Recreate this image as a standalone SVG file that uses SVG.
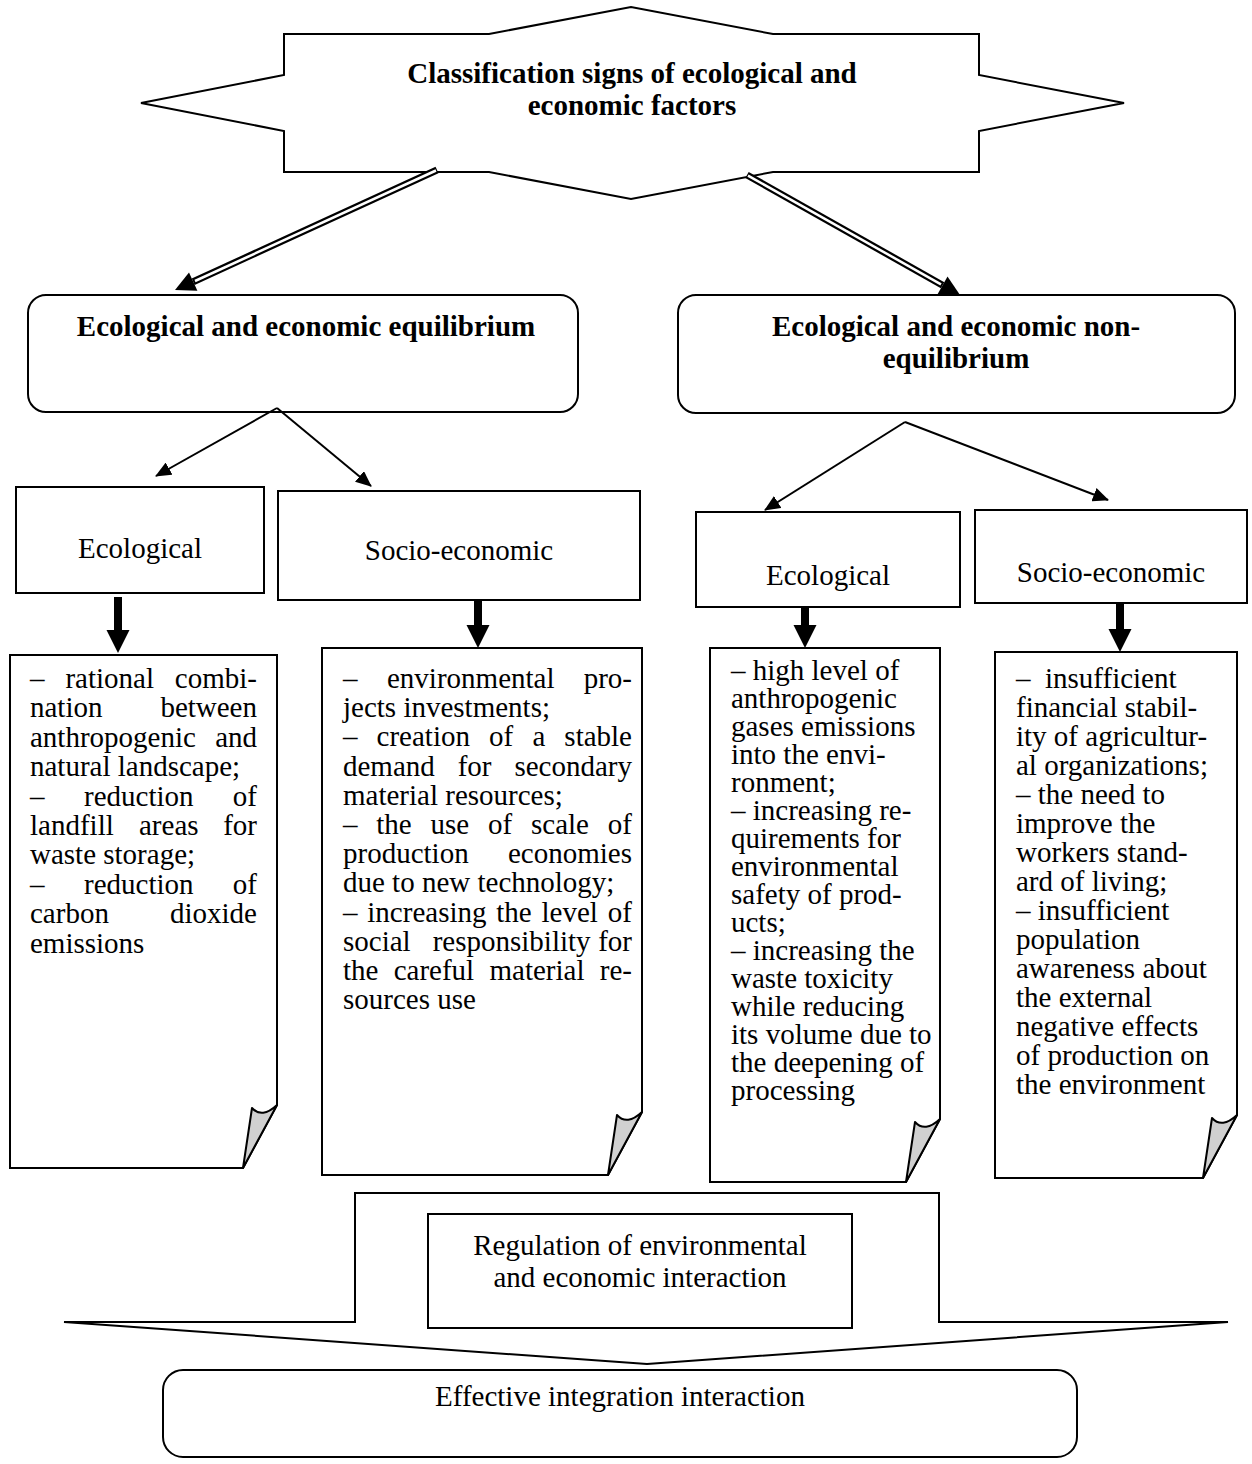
<svg xmlns="http://www.w3.org/2000/svg" width="1252" height="1464" viewBox="0 0 1252 1464">
<style>
text{font-family:"Liberation Serif","Times New Roman",serif;font-size:29px;fill:#000}
.b{font-weight:bold}
.m{text-anchor:middle}
.r{text-anchor:end}
.box{fill:#fff;stroke:#000;stroke-width:2}
.thin{fill:none;stroke:#000;stroke-width:2}
.dbl{fill:none;stroke:#000;stroke-width:7}
.dbl2{fill:none;stroke:#fff;stroke-width:2.5}
.curl{fill:#d0d0d0;stroke:#000;stroke-width:2;stroke-linejoin:round}
</style>
<defs>
<marker id="ah" markerWidth="16" markerHeight="14" refX="15" refY="7" orient="auto" markerUnits="userSpaceOnUse"><path d="M0,0 L16,7 L0,14 Z" fill="#000"/></marker>
</defs>
<rect width="1252" height="1464" fill="#fff"/>

<g id="title">
<polygon class="box" points="141,103 284,75 284,34 489,34 631,7 773,34 979,34 979,75 1124,103 979,131 979,172 773,172 631,199 489,172 284,172 284,131"/>
<text class="b m" x="632" y="83">Classification signs of ecological and</text>
<text class="b m" x="632" y="115">economic factors</text>
</g>

<g id="equilibrium">
<rect class="box" x="28" y="295" width="550" height="117" rx="18"/>
<text class="b m" x="306" y="336">Ecological and economic equilibrium</text>
</g>
<g id="nonequilibrium">
<rect class="box" x="678" y="295" width="557" height="118" rx="18"/>
<text class="b m" x="956" y="336">Ecological and economic non-</text>
<text class="b m" x="956" y="368">equilibrium</text>
</g>

<g id="eco1">
<rect class="box" x="16" y="487" width="248" height="106"/>
<text class="m" x="140" y="558">Ecological</text>
</g>
<g id="soc1">
<rect class="box" x="278" y="491" width="362" height="109"/>
<text class="m" x="459" y="560">Socio-economic</text>
</g>
<g id="eco2">
<rect class="box" x="696" y="512" width="264" height="95"/>
<text class="m" x="828" y="585">Ecological</text>
</g>
<g id="soc2">
<rect class="box" x="975" y="510" width="272" height="93"/>
<text class="m" x="1111" y="582">Socio-economic</text>
</g>

<g id="page1">
<path class="box" d="M10,655 H277 V1105 L243,1168 H10 Z"/>
<path class="curl" d="M243,1168 L252,1108 Q262,1119 277,1105 Z"/>
<text x="30" y="688">–</text><text x="65.4" y="688">rational</text><text class="r" x="257" y="688">combi-</text>
<text x="30" y="717">nation</text><text class="r" x="257" y="717">between</text>
<text x="30" y="747">anthropogenic</text><text class="r" x="257" y="747">and</text>
<text x="30" y="776">natural landscape;</text>
<text x="30" y="806">–</text><text x="84" y="806">reduction</text><text class="r" x="257" y="806">of</text>
<text x="30" y="835">landfill</text><text x="139" y="835">areas</text><text class="r" x="257" y="835">for</text>
<text x="30" y="864">waste storage;</text>
<text x="30" y="894">–</text><text x="84" y="894">reduction</text><text class="r" x="257" y="894">of</text>
<text x="30" y="923">carbon</text><text class="r" x="257" y="923">dioxide</text>
<text x="30" y="953">emissions</text>
</g>

<g id="page2">
<path class="box" d="M322,648 H642 V1112 L608,1175 H322 Z"/>
<path class="curl" d="M608,1175 L617,1115 Q627,1126 642,1112 Z"/>
<text x="343" y="688">–</text><text x="387" y="688">environmental</text><text class="r" x="632" y="688">pro-</text>
<text x="343" y="717">jects investments;</text>
<text x="343" y="746">–</text><text x="376.6" y="746">creation</text><text x="489" y="746">of</text><text x="532.4" y="746">a</text><text class="r" x="632" y="746">stable</text>
<text x="343" y="776">demand</text><text x="457.7" y="776">for</text><text class="r" x="632" y="776">secondary</text>
<text x="343" y="805">material resources;</text>
<text x="343" y="834">–</text><text x="376.3" y="834">the</text><text x="430.5" y="834">use</text><text x="488" y="834">of</text><text x="531" y="834">scale</text><text class="r" x="632" y="834">of</text>
<text x="343" y="863">production</text><text class="r" x="632" y="863">economies</text>
<text x="343" y="892">due to new technology;</text>
<text x="343" y="922">–</text><text x="367.3" y="922">increasing</text><text x="496.3" y="922">the</text><text x="541.5" y="922">level</text><text class="r" x="632" y="922">of</text>
<text x="343" y="951">social</text><text x="432.7" y="951">responsibility</text><text class="r" x="632" y="951">for</text>
<text x="343" y="980">the</text><text x="393.7" y="980">careful</text><text x="489.5" y="980">material</text><text class="r" x="632" y="980">re-</text>
<text x="343" y="1009">sources use</text>
</g>

<g id="page3">
<path class="box" d="M710,648 H940 V1119 L906,1182 H710 Z"/>
<path class="curl" d="M906,1182 L915,1122 Q925,1133 940,1119 Z"/>
<text x="731" y="680">– high level of</text>
<text x="731" y="708">anthropogenic</text>
<text x="731" y="736">gases emissions</text>
<text x="731" y="764">into the envi-</text>
<text x="731" y="792">ronment;</text>
<text x="731" y="820">– increasing re-</text>
<text x="731" y="848">quirements for</text>
<text x="731" y="876">environmental</text>
<text x="731" y="904">safety of prod-</text>
<text x="731" y="932">ucts;</text>
<text x="731" y="960">– increasing the</text>
<text x="731" y="988">waste toxicity</text>
<text x="731" y="1016">while reducing</text>
<text x="731" y="1044">its volume due to</text>
<text x="731" y="1072">the deepening of</text>
<text x="731" y="1100">processing</text>
</g>

<g id="page4">
<path class="box" d="M995,652 H1237 V1115 L1203,1178 H995 Z"/>
<path class="curl" d="M1203,1178 L1212,1118 Q1222,1129 1237,1115 Z"/>
<text x="1016" y="688">–</text><text x="1045" y="688">insufficient</text>
<text x="1016" y="717">financial stabil-</text>
<text x="1016" y="746">ity of agricultur-</text>
<text x="1016" y="775">al organizations;</text>
<text x="1016" y="804">– the need to</text>
<text x="1016" y="833">improve the</text>
<text x="1016" y="862">workers stand-</text>
<text x="1016" y="891">ard of living;</text>
<text x="1016" y="920">– insufficient</text>
<text x="1016" y="949">population</text>
<text x="1016" y="978">awareness about</text>
<text x="1016" y="1007">the external</text>
<text x="1016" y="1036">negative effects</text>
<text x="1016" y="1065">of production on</text>
<text x="1016" y="1094">the environment</text>
</g>

<g id="bigarrow">
<polygon class="box" points="355,1193 939,1193 939,1322 1228,1322 647,1364 64,1322 355,1322"/>
</g>
<g id="regulation">
<rect class="box" x="428" y="1214" width="424" height="114"/>
<text class="m" x="640" y="1255">Regulation of environmental</text>
<text class="m" x="640" y="1287">and economic interaction</text>
</g>
<g id="effective">
<rect class="box" x="163" y="1370" width="914" height="87" rx="20"/>
<text class="m" x="620" y="1406">Effective integration interaction</text>
</g>

<g id="connectors">
<path class="dbl" d="M437,170 L193.2,281.7"/>
<path class="dbl2" d="M436,170.5 L195,281"/>
<polygon points="175,290 197.4,290.8 189,272.6" fill="#000"/>
<path class="dbl" d="M747,175 L942.6,285.2"/>
<path class="dbl2" d="M748,175.6 L941,284.3"/>
<polygon points="960,295 937.7,293.9 947.5,276.5" fill="#000"/>
<path class="thin" d="M277,408 L156,476" marker-end="url(#ah)"/>
<path class="thin" d="M277,408 L371,486" marker-end="url(#ah)"/>
<path class="thin" d="M905,422 L765,510" marker-end="url(#ah)"/>
<path class="thin" d="M905,422 L1108,500" marker-end="url(#ah)"/>
<polygon points="114,597 122,597 122,630 129.5,630 118,653 106.5,630 114,630" fill="#000"/>
<polygon points="474,600 482,600 482,625 489.5,625 478,648 466.5,625 474,625" fill="#000"/>
<polygon points="801,608 809,608 809,625 816.5,625 805,648 793.5,625 801,625" fill="#000"/>
<polygon points="1116,604 1124,604 1124,629 1131.5,629 1120,652 1108.5,629 1116,629" fill="#000"/>
</g>
</svg>
